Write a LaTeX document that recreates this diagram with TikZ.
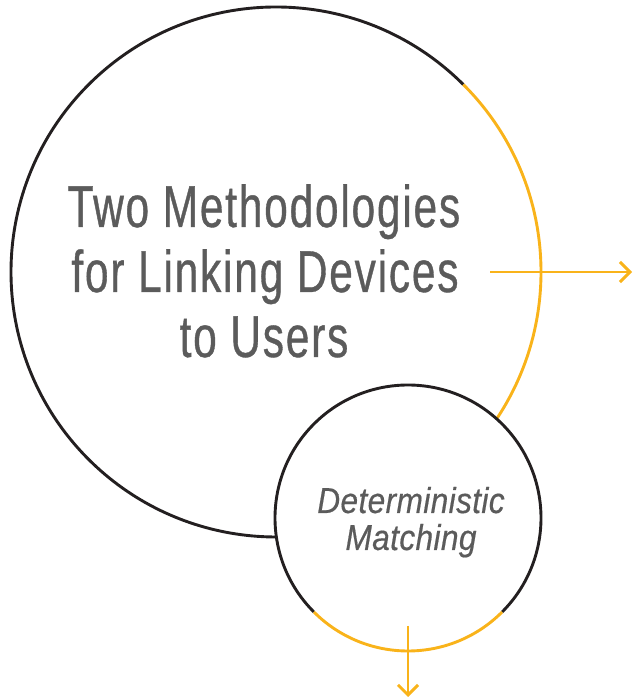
\documentclass[tikz,border=0pt]{standalone}
\usepackage{fontspec}
\usetikzlibrary{arrows.meta}
\newfontfamily\titlefont[FakeStretch=0.72,LetterSpace=3,FakeBold=0.6]{Liberation Sans}
\newfontfamily\subfont[FakeStretch=0.88,LetterSpace=1,FakeBold=0.4]{Liberation Sans}
\definecolor{ink}{HTML}{231F20}
\definecolor{gold}{HTML}{F9B31A}
\definecolor{txt}{HTML}{5B5B5B}
\tikzset{
  blackline/.style={draw=ink,line width=2.9pt},
  goldline/.style={draw=gold,line width=2.9pt},
  goldarrow/.style={draw=gold,line width=2.9pt,-{Straight Barb[length=10pt,width=20pt,line width=2.9pt]}},
  titletext/.style={inner sep=0pt,anchor=base,text=txt,font=\titlefont\fontsize{59}{65}\selectfont},
  subtext/.style={inner sep=0pt,anchor=base,text=txt,font=\subfont\itshape\fontsize{36}{38}\selectfont}
}
\begin{document}
\begin{tikzpicture}[x=1pt,y=1pt]
\useasboundingbox (0,0) rectangle (633,698);
% big circle
\coordinate (bc) at (276,426);
\draw[blackline] ([shift={(45:265)}]bc) arc[start angle=45,end angle=300,radius=265];
\draw[goldline] ([shift={(-45:265)}]bc) arc[start angle=-45,end angle=45,radius=265];
% small circle
\coordinate (sc) at (408,180);
\fill[white] (sc) circle[radius=133];
\draw[blackline] ([shift={(-45:133)}]sc) arc[start angle=-45,end angle=225,radius=133];
\draw[goldline] ([shift={(225:133)}]sc) arc[start angle=225,end angle=315,radius=133];
% arrows
\coordinate (h1) at (490,426);
\coordinate (h2) at (632,426);
\coordinate (v1) at (408,72);
\coordinate (v2) at (408,1);
\draw[goldarrow] (h1) -- (h2);
\draw[goldarrow] (v1) -- (v2);
% text
\node[titletext] (t1) at (264,471) {Two Methodologies};
\node[titletext] (t2) at (265,406) {for Linking Devices};
\node[titletext] (t3) at (264,341) {to Users};
\node[subtext] (s1) at (411,185) {Deterministic};
\node[subtext] (s2) at (411,148) {Matching};
\end{tikzpicture}
\end{document}
